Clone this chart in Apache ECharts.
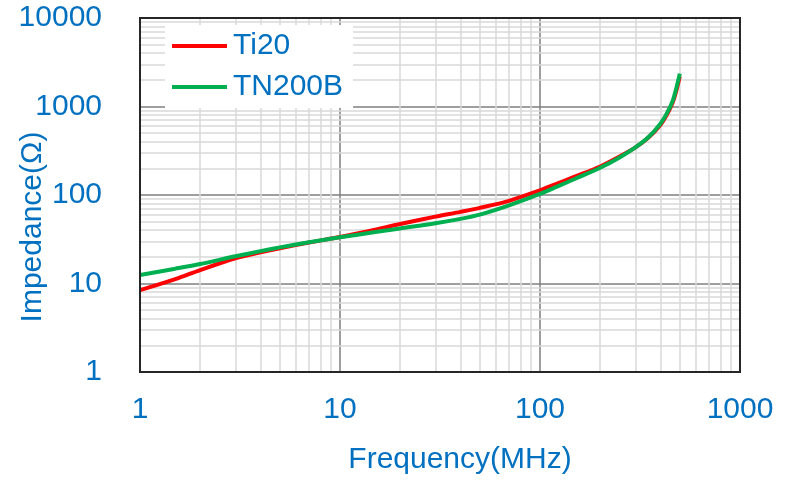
<!DOCTYPE html>
<html>
<head>
<meta charset="utf-8">
<script src="https://cdn.jsdelivr.net/npm/echarts@6/dist/echarts.min.js"></script>
<style>
  html, body { margin: 0; padding: 0; background: #fff; }
  #container { width: 787px; height: 485px; }
</style>
</head>
<body>
<div id="container"></div>
<script>
// frequency points (MHz)
var freq = [1, 1.5, 2, 3, 4, 5, 7, 10, 15, 20, 30, 40, 50, 70, 100, 120, 150, 200, 250, 300, 350, 400, 430, 460, 480, 500];
// impedance (ohm)
var ti20 = [8.4, 11.2, 14.2, 19.3, 22.5, 25, 29, 33.5, 40.5, 47, 57, 64.5, 71.5, 86, 113, 133, 162, 210, 272, 345, 450, 620, 800, 1100, 1500, 2200];
var tn200b = [12.5, 14.7, 16.6, 20.3, 23.2, 25.6, 29.3, 33.3, 38.1, 41.9, 47.9, 53.7, 60, 76.5, 103, 122.5, 152.5, 203, 266, 345, 455, 640, 830, 1150, 1600, 2350];

var seriesNames = ['Ti20', 'TN200B'];
var xMinor = [2, 3, 4, 5, 6, 7, 8, 9, 20, 30, 40, 50, 60, 70, 80, 90, 200, 300, 400, 500, 600, 700, 800, 900];
var yMinor = [2, 3, 4, 5, 6, 7, 8, 9, 20, 30, 40, 50, 60, 70, 80, 90, 200, 300, 400, 500, 600, 700, 800, 900,
              2000, 3000, 4000, 5000, 6000, 7000, 8000, 9000];

var dom = document.getElementById('container');
var myChart = echarts.init(dom);

var blue = '#0070C0';
var font = 'Liberation Sans, Arial, sans-serif';

var pairs = function(xs, ys){
    var out = [];
    for (var i = 0; i < xs.length; i++) {
        out.push([xs[i], ys[i]]);
    }
    return out;
};

var minorLines = [];
xMinor.forEach(function(v){ minorLines.push({ xAxis: v }); });
yMinor.forEach(function(v){ minorLines.push({ yAxis: v }); });

var plain = function(v){ return String(v); };

var option = {
    animation: false,
    grid: {
        left: 140,
        right: 47,
        top: 18,
        bottom: 113,
        containLabel: false,
        outerBoundsMode: 'none',
        show: true,
        borderColor: '#262626',
        borderWidth: 2,
        backgroundColor: 'transparent',
        z: 5
    },
    legend: {
        data: seriesNames,
        orient: 'vertical',
        left: 165,
        top: 25,
        padding: [6, 10, 6, 7],
        backgroundColor: '#fff',
        itemWidth: 55,
        itemHeight: 4,
        itemGap: 11,
        icon: 'rect',
        textStyle: { color: blue, fontSize: 30, fontFamily: font, padding: [0, 0, 0, 1] }
    },
    xAxis: {
        type: 'log',
        logBase: 10,
        min: 1,
        max: 1000,
        splitNumber: 3,
        name: 'Frequency(MHz)',
        nameLocation: 'middle',
        nameGap: 73,
        nameMoveOverlap: false,
        nameTextStyle: { color: blue, fontSize: 30, fontFamily: font, padding: [0, 0, 0, 40] },
        axisLine: { show: false },
        axisTick: { show: false },
        axisLabel: { color: blue, fontSize: 30, fontFamily: font, margin: 23, formatter: plain },
        splitLine: { show: true, lineStyle: { color: '#7f7f7f', width: 1.5 } }
    },
    yAxis: {
        type: 'log',
        logBase: 10,
        min: 1,
        max: 10000,
        splitNumber: 4,
        name: 'Impedance(Ω)',
        nameLocation: 'middle',
        nameGap: 92,
        nameMoveOverlap: false,
        nameTextStyle: { color: blue, fontSize: 30, fontFamily: font, padding: [0, 64, 0, 0] },
        axisLine: { show: false },
        axisTick: { show: false },
        axisLabel: { color: blue, fontSize: 30, fontFamily: font, margin: 38, formatter: plain },
        splitLine: { show: true, lineStyle: { color: '#7f7f7f', width: 1.5 } }
    },
    series: [
        {
            name: 'minor',
            type: 'line',
            data: [],
            z: 0,
            silent: true,
            markLine: {
                silent: true,
                z: 0,
                symbol: 'none',
                label: { show: false },
                animation: false,
                lineStyle: { color: '#d9d9d9', width: 1.5, type: 'solid' },
                data: minorLines
            }
        },
        {
            name: 'Ti20',
            type: 'line',
            data: pairs(freq, ti20),
            smooth: 0.3,
            showSymbol: false,
            color: '#FF0000',
            lineStyle: { width: 4 },
            z: 3
        },
        {
            name: 'TN200B',
            type: 'line',
            data: pairs(freq, tn200b),
            smooth: 0.3,
            showSymbol: false,
            color: '#00B050',
            lineStyle: { width: 4 },
            z: 4
        }
    ]
};

myChart.setOption(option);
</script>
</body>
</html>
